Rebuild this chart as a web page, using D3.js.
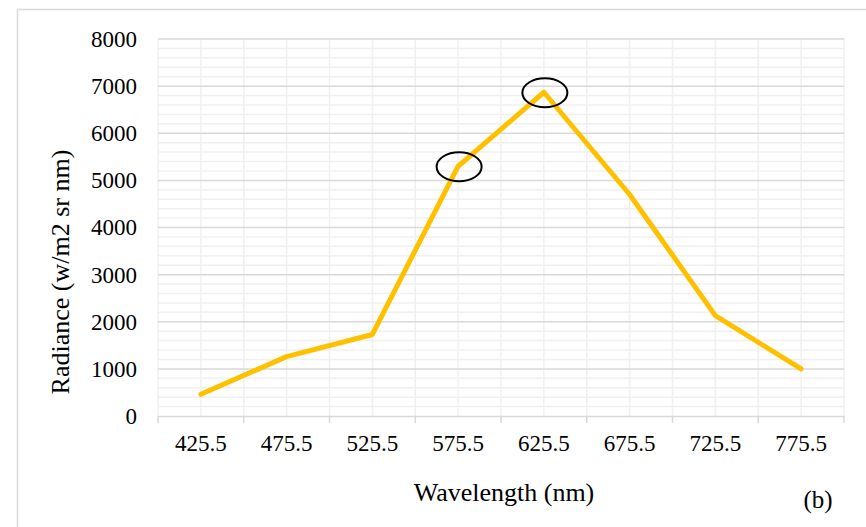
<!DOCTYPE html>
<html>
<head>
<meta charset="utf-8">
<script src="https://cdn.jsdelivr.net/npm/d3@7"></script>
<style>
  html, body { margin: 0; padding: 0; background: #fff; }
  svg { display: block; font-family: "Liberation Serif", "Times New Roman", serif; }
</style>
</head>
<body>
<svg id="chart" width="866" height="527"></svg>
<script>
const categories = ["425.5", "475.5", "525.5", "575.5", "625.5", "675.5", "725.5", "775.5"];
const radiance = [460, 1260, 1730, 5300, 6870, 4700, 2130, 1000];
const yTicks = [0, 1000, 2000, 3000, 4000, 5000, 6000, 7000, 8000];
const highlighted = ["575.5", "625.5"];
const xTitle = "Wavelength (nm)";
const yTitle = "Radiance (w/m2 sr nm)";
const panelLabel = "(b)";

const svg = d3.select("#chart");
const W = 866, H = 527;
const plot = { left: 158, right: 844, top: 39, bottom: 416 };

// outer border
svg.append("rect")
  .attr("x", 17.5).attr("y", 9.5)
  .attr("width", W + 10).attr("height", H + 10)
  .attr("fill", "none").attr("stroke", "#d9d9d9").attr("stroke-width", 1.5);

const x = d3.scaleBand().domain(categories).range([plot.left, plot.right]).padding(0);
const y = d3.scaleLinear().domain([0, 8000]).range([plot.bottom, plot.top]);
const cx = d => x(d) + x.bandwidth() / 2;

const grid = svg.append("g");
// minor horizontal gridlines every 200
const minor = d3.range(200, 8000, 200).filter(v => v % 1000 !== 0);
grid.selectAll(".hmin").data(minor).join("line")
  .attr("x1", plot.left).attr("x2", plot.right)
  .attr("y1", d => y(d)).attr("y2", d => y(d))
  .attr("stroke", "#f0f0f0").attr("stroke-width", 1.5);
// vertical gridlines at boundaries and centres
const vlines = categories.flatMap(c => [x(c), cx(c)]).concat([plot.right]);
grid.selectAll(".v").data(vlines).join("line")
  .attr("x1", d => d).attr("x2", d => d)
  .attr("y1", plot.top).attr("y2", plot.bottom)
  .attr("stroke", "#f0f0f0").attr("stroke-width", 1.5);
// major horizontal gridlines
grid.selectAll(".hmaj").data(yTicks.filter(v => v > 0)).join("line")
  .attr("x1", plot.left).attr("x2", plot.right)
  .attr("y1", d => y(d)).attr("y2", d => y(d))
  .attr("stroke", "#d9d9d9").attr("stroke-width", 1.5);

// x axis
const xAxis = d3.axisBottom(x).tickSize(0).tickSizeOuter(0);
const gx = svg.append("g").attr("transform", `translate(0,${plot.bottom})`).call(xAxis);
gx.select(".domain").attr("stroke", "#d9d9d9").attr("stroke-width", 1.5);
gx.selectAll(".tick text")
  .attr("dy", null).attr("y", 35)
  .attr("font-size", "23px").attr("fill", "#000")
  .attr("font-family", "Liberation Serif, Times New Roman, serif");
// category boundary tick marks
gx.selectAll(".bt").data(categories.map(c => x(c)).concat([plot.right])).join("line")
  .attr("x1", d => d).attr("x2", d => d)
  .attr("y1", 0).attr("y2", 7)
  .attr("stroke", "#d9d9d9").attr("stroke-width", 1.5);

// y axis labels
const yAxis = d3.axisLeft(y).tickValues(yTicks).tickSize(0).tickPadding(21).tickFormat(d3.format("d"));
const gy = svg.append("g").attr("transform", `translate(${plot.left},0)`).call(yAxis);
gy.select(".domain").remove();
gy.selectAll(".tick text")
  .attr("font-size", "23px").attr("fill", "#000")
  .attr("font-family", "Liberation Serif, Times New Roman, serif");

// line
const line = d3.line().x((d, i) => cx(categories[i])).y(d => y(d));
svg.append("path").datum(radiance)
  .attr("d", line)
  .attr("fill", "none").attr("stroke", "#FFC000").attr("stroke-width", 5)
  .attr("stroke-linejoin", "round").attr("stroke-linecap", "round");

// highlight ellipses
svg.selectAll(".hl").data(highlighted).join("ellipse")
  .attr("cx", d => cx(d) + 1)
  .attr("cy", d => y(radiance[categories.indexOf(d)]) + 0.5)
  .attr("rx", 22.5).attr("ry", 14.5)
  .attr("fill", "none").attr("stroke", "#000").attr("stroke-width", 2);

// titles
svg.append("text")
  .attr("x", 504).attr("y", 501)
  .attr("text-anchor", "middle").attr("font-size", "26px").attr("fill", "#000")
  .text(xTitle);
svg.append("text")
  .attr("transform", "translate(69,272) rotate(-90)")
  .attr("text-anchor", "middle").attr("font-size", "26px").attr("fill", "#000")
  .text(yTitle);
svg.append("text")
  .attr("x", 818).attr("y", 508)
  .attr("text-anchor", "middle").attr("font-size", "25px").attr("fill", "#000")
  .text(panelLabel);
</script>
</body>
</html>
